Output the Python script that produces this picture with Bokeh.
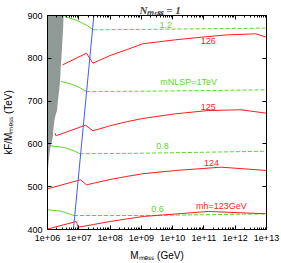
from bokeh.plotting import figure
from bokeh.models import (LogAxis, LinearAxis, FixedTicker, CustomJSTickFormatter,
                          ColumnDataSource, Range1d)
from bokeh.core.properties import value
from bokeh.embed import file_html
from bokeh.resources import INLINE

# ---------------- data (x values are log10 of M_mess in GeV, y is kF/M_mess in TeV) -----
x_ticks_exp = [6, 7, 8, 9, 10, 11, 12, 13]
x_tick_labels = ["1e+06", "1e+07", "1e+08", "1e+09", "1e+10", "1e+11", "1e+12", "1e+13"]
y_ticks = [400, 500, 600, 700, 800, 900]
title_text = "N\u2098\u2091\u209b\u209b = 1"
x_label = "M\u2098\u2091\u209b\u209b (GeV)"
y_label = "kF/M\u2098\u2091\u209b\u209b (TeV)"

# excluded (grey) region on the left
gray_lgM = [6.0, 6.512, 6.50, 6.471, 6.455, 6.439, 6.42, 6.408, 6.38, 6.345, 6.304,
            6.26, 6.220, 6.19, 6.166, 6.094, 6.063, 6.03, 6.009, 6.0]
gray_kF = [900, 900, 870, 834.6, 815, 794.9, 775, 755.1, 730, 708.4, 678.0,
           668, 654.7, 635, 614.9, 591.6, 577.6, 555, 530.8, 519.2]

# blue boundary line
blue_lgM = [6.829, 7.482]
blue_kF = [400, 900]

# Higgs mass contours (red)
mh126_lgM = [6.480, 6.556, 7.246, 7.453, 8.000, 8.521, 9.045, 10.090, 10.928, 11.766, 12.654, 13.0]
mh126_kF = [784.8, 787.2, 811.9, 788.6, 806.5, 819.9, 833.9, 843.2, 849.3, 854.9, 857.2, 849.3]
mh125_lgM = [6.242, 6.273, 6.323, 7.215, 7.453, 8.000, 8.521, 9.045, 10.081, 11.139, 12.184, 13.0]
mh125_kF = [625.0, 618.9, 620.3, 643.7, 630.6, 642.3, 651.6, 659.4, 670.3, 678.0, 679.7, 671.7]
mh124_lgM = [6.0, 7.058, 7.246, 8.000, 8.521, 9.045, 10.090, 11.556, 13.0]
mh124_kF = [495.1, 516.1, 504.4, 516.8, 523.8, 530.2, 537.9, 545.6, 537.9]
mh123_lgM = [6.0, 6.920, 6.983, 7.475, 8.000, 9.045, 11.139, 13.0]
mh123_kF = [401.0, 418.7, 405.4, 411.7, 418.7, 430.4, 442.1, 436.7]

# NLSP mass contours (green), left part solid, right part dashed
n12_left_lgM = [6.556, 6.951, 7.265, 7.475]
n12_left_kF = [897.7, 888.3, 876.6, 866.6]
n12_right_lgM = [7.475, 9.045, 10.928, 13.0]
n12_right_kF = [866.6, 867.5, 869.0, 870.5]
n10_left_lgM = [6.430, 6.744, 7.005, 7.246]
n10_left_kF = [745.8, 740.4, 732.5, 722.4]
n10_right_lgM = [7.246, 9.045, 11.0, 13.0]
n10_right_kF = [722.4, 723.1, 724.5, 726.4]
n08_left_lgM = [6.0, 6.534, 6.848, 7.036]
n08_left_kF = [596.3, 591.6, 583.9, 576.9]
n08_right_lgM = [7.036, 9.045, 11.0, 13.0]
n08_right_kF = [576.9, 578.3, 580.5, 582.9]
n06_left_lgM = [6.0, 6.430, 6.690, 6.848]
n06_left_kF = [446.0, 442.8, 436.7, 432.7]
n06_right_lgM = [6.848, 9.045, 11.0, 13.0]
n06_right_kF = [432.7, 432.7, 434.5, 436.7]

# contour labels
lab_text = ["1.2", "126", "mNLSP=1TeV", "125", "0.8", "124", "0.6", "mh=123GeV"]
lab_lgM = [9.776, 11.139, 10.51, 11.139, 9.673, 11.242, 9.516, 11.556]
lab_kF = [878.3, 840.0, 743.5, 685.8, 594.6, 554.9, 448.4, 453.8]
lab_kind = ["n", "h", "n", "h", "n", "h", "n", "h"]

# ---------------- styles -----------------------------------------------------
RED = "#ff1c1c"
GREEN = "#5ad826"
BLUE = "#3b5cff"
GRAY = "#8f9995"
SANS = "Liberation Sans"
SERIF = "Liberation Serif"

W, H = 281, 263
FL, FT, FR, FB = 43, 15, 266, 229   # frame edges in picture pixels


def M(lg):
    return [10 ** v for v in lg]


p = figure(width=W, height=H, x_axis_type="log",
           x_range=Range1d(1e6, 1e13), y_range=Range1d(400, 900),
           output_backend="svg", toolbar_location=None,
           min_border_left=FL, min_border_right=W - FR,
           min_border_top=FT, min_border_bottom=H - FB)
p.grid.visible = False
p.outline_line_color = "black"
p.outline_line_width = 1
p.background_fill_color = "white"
p.border_fill_color = "white"

bottom = p.below[0]
left = p.left[0]

# title
p.title.text = title_text
p.title.text_font = SERIF
p.title.text_font_size = "11px"
p.title.text_font_style = "bold italic"
p.title.align = "left"
p.title.offset = 92
p.title.standoff = 0

# grey region
p.patch(M(gray_lgM), gray_kF, fill_color=GRAY, line_color=None)

# green contours
for lx, ly, rx, ry in [(n12_left_lgM, n12_left_kF, n12_right_lgM, n12_right_kF),
                       (n10_left_lgM, n10_left_kF, n10_right_lgM, n10_right_kF),
                       (n08_left_lgM, n08_left_kF, n08_right_lgM, n08_right_kF),
                       (n06_left_lgM, n06_left_kF, n06_right_lgM, n06_right_kF)]:
    p.line(M(lx), ly, line_color=GREEN, line_width=1)
    p.line(M(rx), ry, line_color=GREEN, line_width=1, line_dash="4 2")

# red contours
for lx, ly in [(mh126_lgM, mh126_kF), (mh125_lgM, mh125_kF),
               (mh124_lgM, mh124_kF), (mh123_lgM, mh123_kF)]:
    p.line(M(lx), ly, line_color=RED, line_width=1)

# blue line
p.line(M(blue_lgM), blue_kF, line_color=BLUE, line_width=1)

# contour labels
src = ColumnDataSource(dict(x=M(lab_lgM), y=lab_kF, text=lab_text,
                            color=[GREEN if k == "n" else RED for k in lab_kind]))
p.text(x="x", y="y", text="text", source=src, text_color="color",
       text_font=value(SANS), text_font_size="9px",
       text_align="center", text_baseline="middle")

# ---------------- axes -------------------------------------------------------
x_major = [10.0 ** e for e in x_ticks_exp]
x_minor = [m * 10.0 ** e for e in x_ticks_exp[:-1] for m in range(2, 10)]
xt = FixedTicker(ticks=x_major, minor_ticks=x_minor)
yt = FixedTicker(ticks=y_ticks, minor_ticks=[])
xfmt = CustomJSTickFormatter(args=dict(vals=x_major, lbl=x_tick_labels), code="""
    for (let i = 0; i < vals.length; i++) {
        if (Math.abs(Math.log10(vals[i]) - Math.log10(tick)) < 1e-6) return lbl[i];
    }
    return '';
""")
blank = CustomJSTickFormatter(code="return '';")

bottom.ticker = xt
bottom.formatter = xfmt
left.ticker = yt

top = LogAxis(ticker=xt, formatter=blank, major_label_standoff=0)
right = LinearAxis(ticker=yt, formatter=blank, major_label_standoff=0)
p.add_layout(top, "above")
p.add_layout(right, "right")

for ax in [bottom, left, top, right]:
    ax.major_tick_in = 4
    ax.major_tick_out = 0
    ax.minor_tick_in = 2
    ax.minor_tick_out = 0
    ax.axis_line_color = "black"
    ax.major_tick_line_color = "black"
    ax.minor_tick_line_color = "black"
    ax.major_label_text_font = SANS
    ax.major_label_text_color = "black"
    ax.major_label_text_font_size = "9px"
    ax.axis_label_text_font = SANS
    ax.axis_label_text_font_style = "normal"
    ax.axis_label_text_font_size = "10px"
    ax.axis_label_text_color = "black"

bottom.major_label_standoff = 5
left.major_label_standoff = 5
bottom.axis_label = x_label
bottom.axis_label_standoff = 6
left.axis_label = y_label
left.axis_label_standoff = 10

open("out.html", "w").write(file_html(p, INLINE))
